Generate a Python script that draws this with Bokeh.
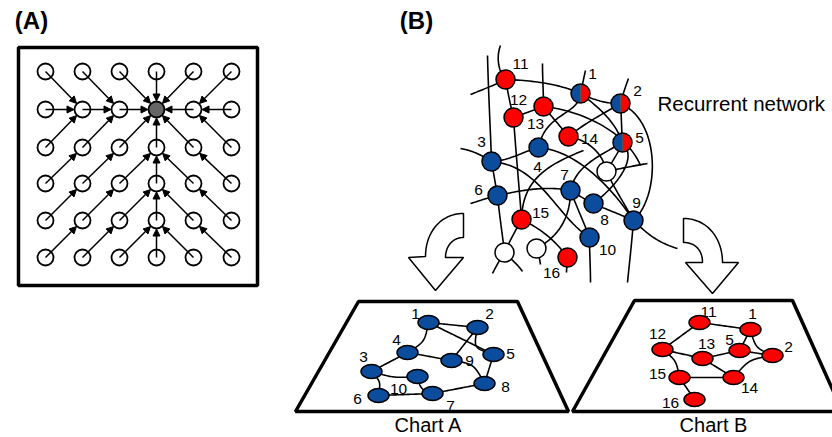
from bokeh.plotting import figure
from bokeh.models import Arrow, NormalHead, ColumnDataSource, Range1d
from bokeh.core.properties import value
from bokeh.embed import file_html
from bokeh.resources import INLINE
import numpy as np

W, H = 832, 437
FONT = value("Liberation Sans")
RED = "#ff0000"
BLUE = "#0b4c9c"
GRAY = "#666666"

# ---------------- Panel A: grid of units pointing to the winner ----------
grid_x = [45, 82, 119, 156, 193, 231]
grid_y = [71, 109, 147, 183, 220, 257]
winner_row, winner_col = 1, 3
unit_r = 8

# ---------------- Panel B: recurrent network ----------------
net_id = ["11", "1", "2", "12", "13", "14", "5", "3", "4", "w1",
          "6", "7", "8", "9", "15", "10", "w2", "w3", "16"]
net_x = [505, 580, 620, 513, 543, 568, 622, 491, 538, 606,
         497, 570, 593, 633, 521, 589, 504, 536, 567]
net_y = [79, 93, 103, 117, 106, 136, 142, 161, 147, 171,
         195, 190, 203, 220, 219, 237, 252, 248, 257]
net_kind = ["red", "half", "half", "red", "red", "red", "half", "blue", "blue", "white",
            "blue", "blue", "blue", "blue", "red", "blue", "white", "white", "red"]
net_lab_text = ["11", "1", "2", "12", "13", "14", "5", "3", "4",
                "7", "6", "15", "8", "9", "10", "16"]
net_lab_x = [520, 592, 637, 518, 535, 589, 639, 481, 537,
             564, 478, 540, 604, 636, 607, 551]
net_lab_y = [63, 73, 90, 99, 123, 138, 137, 141, 166,
             174, 189, 212, 219, 202, 249, 272]

# Wiring of the network: cubic curves (start, ctrl1, ctrl2, end)
net_wires = [
    ((487, 55), (488, 95), (490, 130), (491, 161)),
    ((491, 161), (493, 172), (495, 184), (497, 195)),
    ((497, 195), (499, 215), (502, 235), (504, 252)),
    ((504, 252), (500, 258), (496, 265), (492, 273)),
    ((504, 252), (512, 260), (518, 265), (522, 271)),
    ((500, 45), (496, 55), (497, 70), (505, 79)),
    ((470, 94), (485, 88), (495, 84), (505, 79)),
    ((505, 79), (535, 80), (560, 84), (580, 93)),
    ((505, 79), (508, 95), (510, 105), (513, 117)),
    ((542, 63), (542, 78), (543, 92), (543, 106)),
    ((513, 117), (523, 113), (533, 110), (543, 106)),
    ((585, 70), (583, 78), (582, 85), (580, 93)),
    ((580, 93), (595, 100), (605, 103), (620, 103)),
    ((628, 78), (625, 86), (622, 95), (620, 103)),
    ((620, 103), (660, 120), (660, 195), (633, 220)),
    ((620, 103), (621, 116), (621, 129), (622, 142)),
    ((620, 103), (605, 112), (585, 122), (568, 136)),
    ((580, 93), (600, 108), (615, 122), (622, 142)),
    ((580, 93), (578, 115), (545, 112), (538, 147)),
    ((543, 106), (580, 110), (625, 130), (640, 165)),
    ((543, 106), (551, 116), (560, 126), (568, 136)),
    ((513, 117), (516, 160), (519, 190), (521, 219)),
    ((460, 148), (472, 150), (482, 155), (491, 161)),
    ((491, 161), (510, 160), (525, 150), (538, 147)),
    ((491, 161), (540, 165), (555, 215), (589, 237)),
    ((538, 147), (575, 150), (610, 185), (633, 220)),
    ((568, 136), (590, 140), (603, 155), (606, 171)),
    ((622, 142), (618, 152), (611, 162), (606, 171)),
    ((606, 171), (620, 168), (635, 165), (647, 163)),
    ((622, 142), (640, 160), (610, 190), (593, 203)),
    ((470, 203), (480, 200), (488, 197), (497, 195)),
    ((497, 195), (520, 190), (545, 185), (570, 190)),
    ((570, 190), (575, 165), (600, 155), (622, 142)),
    ((570, 190), (578, 195), (585, 199), (593, 203)),
    ((570, 190), (576, 206), (583, 221), (589, 237)),
    ((570, 190), (570, 215), (560, 235), (536, 248)),
    ((593, 203), (606, 209), (620, 214), (633, 220)),
    ((633, 220), (631, 245), (629, 262), (627, 282)),
    ((633, 220), (648, 235), (660, 243), (677, 248)),
    ((589, 237), (589, 252), (590, 267), (590, 282)),
    ((521, 219), (540, 228), (555, 240), (567, 257)),
    ((521, 219), (522, 180), (545, 165), (583, 150)),
    ((521, 219), (515, 230), (509, 241), (504, 252)),
    ((536, 248), (538, 253), (539, 258), (540, 264)),
    ((567, 257), (567, 262), (566, 267), (566, 272)),
    ((606, 171), (615, 190), (625, 205), (633, 220)),
]

# ---------------- Chart A (blue) ----------------
ca_id = ["1", "2", "4", "5", "9", "3", "10", "8", "6", "7"]
ca_x = [428, 477, 407, 493, 451, 371, 417, 484, 378, 432]
ca_y = [322, 327, 352, 354, 360, 371, 376, 383, 395, 393]
ca_lab_x = [415, 489, 396, 510, 469, 363, 398, 505, 357, 450]
ca_lab_y = [313, 313, 339, 353, 360, 356, 388, 386, 398, 405]
ca_links = [("1", "2", 0), ("1", "5", 0), ("2", "5", 14), ("2", "9", 0),
            ("1", "4", -8), ("4", "9", 0), ("4", "3", 0), ("3", "10", 4),
            ("3", "6", -6), ("10", "7", 6), ("6", "7", 0), ("7", "8", 0),
            ("9", "8", -10), ("5", "8", 0)]
ca_frame_x = [358, 517, 568, 295]
ca_frame_y = [301, 301, 411, 411]

# ---------------- Chart B (red) ----------------
cb_id = ["11", "1", "12", "13", "5", "2", "15", "14", "16"]
cb_x = [699, 750, 662, 702, 739, 772, 679, 733, 694]
cb_y = [322, 329, 349, 358, 350, 355, 377, 377, 399]
cb_lab_x = [708, 752, 657, 706, 729, 788, 657, 749, 670]
cb_lab_y = [311, 313, 333, 343, 339, 346, 373, 387, 402]
cb_links = [("11", "1", 0), ("11", "12", 0), ("12", "13", 0), ("12", "15", -6),
            ("13", "5", 0), ("13", "14", 0), ("5", "1", 0), ("5", "2", 0),
            ("1", "2", 8), ("2", "14", 8), ("15", "14", 0), ("15", "16", 0)]
cb_frame_x = [634, 792, 842, 572]
cb_frame_y = [300, 300, 411, 411]

p = figure(width=W, height=H, output_backend="svg", toolbar_location=None,
           x_range=Range1d(0, W), y_range=Range1d(H, 0),
           min_border=0, background_fill_color="white")
p.axis.visible = False
p.grid.visible = False
p.outline_line_color = None


def bez(p0, p1, p2, p3, n=30):
    t = np.linspace(0, 1, n)[:, None]
    pts = ((1 - t) ** 3) * np.array(p0) + 3 * ((1 - t) ** 2) * t * np.array(p1) \
        + 3 * (1 - t) * t ** 2 * np.array(p2) + t ** 3 * np.array(p3)
    return list(pts[:, 0]), list(pts[:, 1])


# ---- Panel A ----
p.text([31], [20], text=["(A)"], text_font=FONT, text_font_style="bold",
       text_font_size="24px", text_align="center", text_baseline="middle", text_color="black")
p.quad(left=[18], right=[257], top=[47], bottom=[285], fill_color=None,
       line_color="black", line_width=3.5)

xs0, ys0, xs1, ys1 = [], [], [], []
cx, cy, cfill = [], [], []
for r, yv in enumerate(grid_y):
    for c, xv in enumerate(grid_x):
        cx.append(xv)
        cy.append(yv)
        cfill.append(GRAY if (r, c) == (winner_row, winner_col) else "white")
        if (r, c) == (winner_row, winner_col):
            continue
        nr = r + int(np.sign(winner_row - r))
        nc = c + int(np.sign(winner_col - c))
        tx, ty = grid_x[nc], grid_y[nr]
        d = np.hypot(tx - xv, ty - yv)
        ux, uy = (tx - xv) / d, (ty - yv) / d
        xs0.append(xv)
        ys0.append(yv)
        xs1.append(tx - ux * (unit_r + 0.5))
        ys1.append(ty - uy * (unit_r + 0.5))

arrow_src = ColumnDataSource(dict(x0=xs0, y0=ys0, x1=xs1, y1=ys1))
p.add_layout(Arrow(end=NormalHead(size=7, fill_color="black", line_color="black", line_width=1),
                   x_start="x0", y_start="y0", x_end="x1", y_end="y1",
                   line_width=1.5, line_color="black", source=arrow_src))
p.circle(cx, cy, radius=unit_r, fill_color=cfill, line_color="black", line_width=1.8)

# ---- Panel B: network ----
p.text([416], [20], text=["(B)"], text_font=FONT, text_font_style="bold",
       text_font_size="24px", text_align="center", text_baseline="middle", text_color="black")

wx, wy = [], []
for w in net_wires:
    bx, by = bez(*w)
    wx.append(bx)
    wy.append(by)
p.multi_line(wx, wy, line_color="black", line_width=1.6)

nr_ = 9.5
for k, col in (("red", RED), ("blue", BLUE), ("white", "white")):
    idx = [i for i, kk in enumerate(net_kind) if kk == k]
    p.circle([net_x[i] for i in idx], [net_y[i] for i in idx], radius=nr_,
             fill_color=col, line_color="black", line_width=1.5)
half = [i for i, kk in enumerate(net_kind) if kk == "half"]
hx = [net_x[i] for i in half]
hy = [net_y[i] for i in half]
p.wedge(hx, hy, radius=nr_, start_angle=np.pi / 2, end_angle=3 * np.pi / 2,
        fill_color=BLUE, line_color=None)
p.wedge(hx, hy, radius=nr_, start_angle=-np.pi / 2, end_angle=np.pi / 2,
        fill_color=RED, line_color=None)
p.segment(hx, [y - nr_ for y in hy], hx, [y + nr_ for y in hy], line_color="#555555", line_width=1)
p.circle(hx, hy, radius=nr_, fill_color=None, line_color="black", line_width=1.5)

p.text(net_lab_x, net_lab_y, text=net_lab_text, text_font=FONT, text_font_size="15.5px",
       text_align="center", text_baseline="middle", text_color="black")
p.text([657], [103], text=["Recurrent network"], text_font=FONT, text_font_size="20.5px",
       text_align="left", text_baseline="middle", text_color="black")


# ---- curved hollow arrows ----
def hollow_arrow(outer, head_l, tip, head_r, inner):
    ox, oy = bez(*outer)
    ix, iy = bez(*inner)
    xs = ox + [head_l[0], tip[0], head_r[0]] + ix
    ys = oy + [head_l[1], tip[1], head_r[1]] + iy
    p.patch(xs, ys, fill_color="white", line_color="black", line_width=1.5)


hollow_arrow(((463, 213), (440, 213), (425, 232), (425, 256)), (408, 257), (435, 290), (463, 257),
             ((445, 257), (445, 246), (452, 237), (463, 237)))
hollow_arrow(((683, 218), (707, 218), (722, 238), (722, 262)), (738, 262), (712, 293), (685, 262),
             ((702, 262), (702, 250), (695, 242), (683, 242)))


# ---- Charts A and B ----
def chart(ids, xs, ys, links, lab_x, lab_y, fx, fy, color, title, title_x):
    p.patch(fx, fy, fill_color="white", line_color="black", line_width=3.5)
    pos = {i: (x, y) for i, x, y in zip(ids, xs, ys)}
    lx, ly = [], []
    for a, b, bend in links:
        (x0, y0), (x1, y1) = pos[a], pos[b]
        mx, my = (x0 + x1) / 2, (y0 + y1) / 2
        d = np.hypot(x1 - x0, y1 - y0)
        nx, ny = -(y1 - y0) / d, (x1 - x0) / d
        c = (mx + nx * bend, my + ny * bend)
        bx, by = bez((x0, y0), c, c, (x1, y1))
        lx.append(bx)
        ly.append(by)
    p.multi_line(lx, ly, line_color="black", line_width=1.6)
    p.ellipse(xs, ys, width=21, height=14, fill_color=color, line_color="black", line_width=1.5)
    p.text(lab_x, lab_y, text=ids, text_font=FONT, text_font_size="15.5px",
           text_align="center", text_baseline="middle", text_color="black")
    p.text([title_x], [424], text=[title], text_font=FONT, text_font_size="20px",
           text_align="center", text_baseline="middle", text_color="black")


chart(ca_id, ca_x, ca_y, ca_links, ca_lab_x, ca_lab_y, ca_frame_x, ca_frame_y, BLUE, "Chart A", 428)
chart(cb_id, cb_x, cb_y, cb_links, cb_lab_x, cb_lab_y, cb_frame_x, cb_frame_y, RED, "Chart B", 713)

open("out.html", "w").write(file_html(p, INLINE))
